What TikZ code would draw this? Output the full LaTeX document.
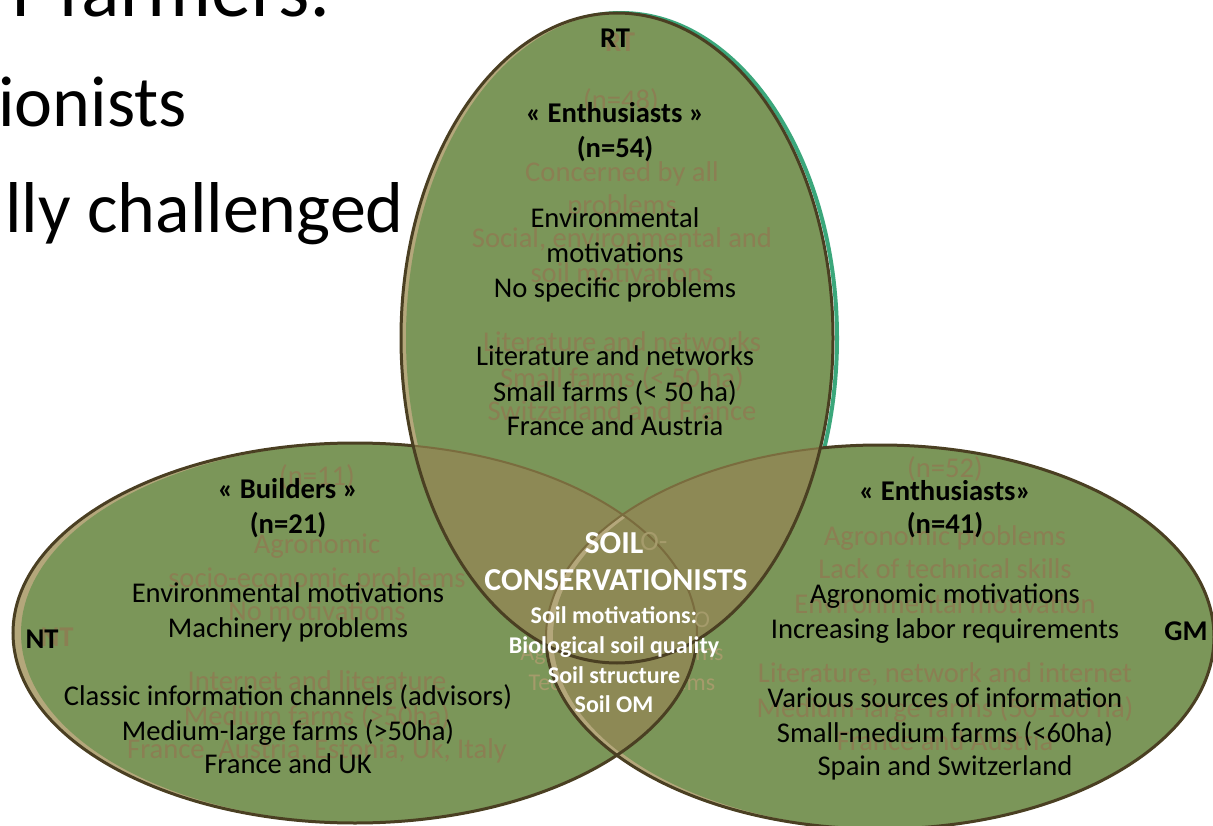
\documentclass[tikz,border=0pt]{standalone}
\usepackage{fontspec}
\setmainfont{Carlito}
\definecolor{vgreen}{HTML}{7B9659}
\definecolor{vkhaki}{HTML}{8D8955}
\definecolor{vtan}{HTML}{B4A77B}
\definecolor{vline}{HTML}{4A3F22}
\definecolor{vfade}{HTML}{7A6C3E}
\definecolor{vteal}{HTML}{3BA77B}
\definecolor{vghost}{HTML}{8B7F53}
\definecolor{vghostk}{HTML}{A59B6B}
\tikzset{
  txtbody/.style={font=\fontsize{28.6}{34}\selectfont, text=black, anchor=base, inner sep=0pt},
  txthead/.style={txtbody, font=\fontsize{28.6}{34}\selectfont\bfseries},
  txtghost/.style={txtbody, text=vghost},
  txtghostb/.style={txthead, text=vghost},
  txtghostk/.style={font=\fontsize{24}{29}\selectfont, text=vghostk, anchor=base, inner sep=0pt},
  txtghostkb/.style={font=\fontsize{28}{34}\selectfont, text=vghostk, anchor=base, inner sep=0pt},
  txtwbig/.style={font=\fontsize{32}{38}\selectfont\bfseries, text=white, anchor=base, inner sep=0pt},
  txtwsmall/.style={font=\fontsize{24}{29}\selectfont\bfseries, text=white, anchor=base, inner sep=0pt},
  txtslide/.style={font=\fontsize{72}{86}\selectfont, text=black, anchor=base east, inner sep=0pt},
  txtslidebig/.style={font=\fontsize{80}{96}\selectfont, text=black, anchor=base east, inner sep=0pt},
  vout/.style={draw=vline, line width=3pt},
  voutfade/.style={draw=vfade, line width=2pt},
}
\begin{document}
\begin{tikzpicture}[x=1pt,y=-1pt]
\def\EL{(355,633) ellipse [x radius=342pt, y radius=190pt]}
\def\ER{(880,637) ellipse [x radius=334pt, y radius=192pt]}
\def\ET{(617,338) ellipse [x radius=216pt, y radius=325pt]}
\useasboundingbox (0,0) rectangle (1213,826);
\clip (0,0) rectangle (1213,826);
\fill[white] (0,0) rectangle (1213,826);

% slide text behind the diagram
\node[txtslidebig] (s1) at (331,17) {r farmers:};
\node[txtslide] (s2) at (187,127) {ionists};
\node[txtslide] (s3) at (404,233) {lly challenged};

% teal ghost edge of the top ellipse
\draw[vteal, line width=4pt, xshift=4pt] \ET;

% left ellipse
\fill[vtan] \EL;
\begin{scope}
  \clip \EL;
  \fill[vgreen, xshift=8pt] \EL;
\end{scope}
% right ellipse
\fill[vtan] \ER;
\begin{scope}
  \clip \ER;
  \fill[vgreen, xshift=8pt] \ER;
\end{scope}
% top ellipse
\fill[vtan] \ET;
\begin{scope}
  \clip \ET;
  \fill[vgreen, xshift=5pt] \ET;
\end{scope}

% ghost texts of the centre that the overlaps hide
\node[txtghostk] (gc3) at (622,660) {Agronomic problems};
\node[txtghostk] (gc4) at (622,690) {Technical problems};

% overlaps
\begin{scope}
  \clip \ET;
  \fill[vkhaki] \EL;
  \fill[vkhaki] \ER;
\end{scope}
\begin{scope}
  \clip \EL;
  \fill[vtan] \ER;
  \clip \ER;
  \fill[vkhaki, xshift=7pt] \ER;
\end{scope}

% outlines
\begin{scope}[even odd rule]
  \clip (-20,-20) rectangle (1233,846) \ET;
  \path[vout] \EL;
  \path[vout] \ER;
\end{scope}
\begin{scope}
  \clip \ET;
  \path[voutfade] \EL;
  \path[voutfade] \ER;
\end{scope}
\path[vout] \ET;

% ghost texts, top
\node[txtghostb] (gt0) at (620,52) {RT};
\node[txtghost] (gt1) at (621,110) {(n=48)};
\node[txtghost] (gt2) at (622,182) {Concerned by all};
\node[txtghost] (gt3) at (622,215) {problems};
\node[txtghost] (gt4) at (622,248) {Social, environmental and};
\node[txtghost] (gt5) at (622,283) {soil motivations};
\node[txtghost] (gt6) at (622,352) {Literature and networks};
\node[txtghost] (gt7) at (622,387) {Small farms (< 50 ha)};
\node[txtghost] (gt8) at (622,420) {Switzerland and France};

% ghost texts, left
\node[txtghostb] (gl0) at (57,646) {NT};
\node[txtghost] (gl1) at (317,485) {(n=11)};
\node[txtghost] (gl2) at (317,553) {Agronomic};
\node[txtghost] (gl3) at (317,587) {socio-economic problems};
\node[txtghost] (gl4) at (317,620) {No motivations};
\node[txtghost] (gl5) at (317,690) {Internet and literature};
\node[txtghost] (gl6) at (317,725) {Medium farms (>50ha)};
\node[txtghost] (gl7) at (317,758) {France, Austria, Estonia, Uk, Italy};

% ghost texts, right
\node[txtghost] (gr1) at (945,477) {(n=52)};
\node[txtghost] (gr2) at (945,545) {Agronomic problems};
\node[txtghost] (gr3) at (945,578) {Lack of technical skills};
\node[txtghost] (gr4) at (945,613) {Environmental motivation};
\node[txtghost] (gr5) at (945,682) {Literature, network and internet};
\node[txtghost] (gr6) at (945,717) {Medium-large farms (50-100 ha)};
\node[txtghost] (gr7) at (945,750) {France and Austria};

% ghost texts, centre
\node[txtghostkb] (gc1) at (654,550) {O-};
\node[txtghostk] (gc2) at (702,627) {O};

% top ellipse text
\node[txthead] (t0) at (615,48) {RT};
\node[txthead] (t1) at (615,123) {« Enthusiasts »};
\node[txthead] (t2) at (615,158) {(n=54)};
\node[txtbody] (t3) at (615,228) {Environmental};
\node[txtbody] (t4) at (615,263) {motivations};
\node[txtbody] (t5) at (615,298) {No specific problems};
\node[txtbody] (t6) at (615,366) {Literature and networks};
\node[txtbody] (t7) at (615,401) {Small farms (< 50 ha)};
\node[txtbody] (t8) at (615,435) {France and Austria};

% left ellipse text
\node[txthead] (l0) at (42,648) {NT};
\node[txthead] (l1) at (288,498) {« Builders »};
\node[txthead] (l2) at (288,533) {(n=21)};
\node[txtbody] (l3) at (288,602) {Environmental motivations};
\node[txtbody] (l4) at (288,637) {Machinery problems};
\node[txtbody] (l5) at (288,705) {Classic information channels (advisors)};
\node[txtbody] (l6) at (288,740) {Medium-large farms (>50ha)};
\node[txtbody] (l7) at (288,773) {France and UK};

% right ellipse text
\node[txthead] (r0) at (1186,640) {GM};
\node[txthead] (r1) at (945,500) {« Enthusiasts»};
\node[txthead] (r2) at (945,533) {(n=41)};
\node[txtbody] (r3) at (945,603) {Agronomic motivations};
\node[txtbody] (r4) at (945,638) {Increasing labor requirements};
\node[txtbody] (r5) at (945,707) {Various sources of information};
\node[txtbody] (r6) at (945,742) {Small-medium farms (<60ha)};
\node[txtbody] (r7) at (945,775) {Spain and Switzerland};

% centre text
\node[txtwbig] (c1) at (614,553) {SOIL};
\node[txtwbig] (c2) at (616,590) {CONSERVATIONISTS};
\node[txtwsmall] (c3) at (614,623) {Soil motivations:};
\node[txtwsmall] (c4) at (614,653) {Biological soil quality};
\node[txtwsmall] (c5) at (614,683) {Soil structure};
\node[txtwsmall] (c6) at (614,712) {Soil OM};
\end{tikzpicture}
\end{document}
